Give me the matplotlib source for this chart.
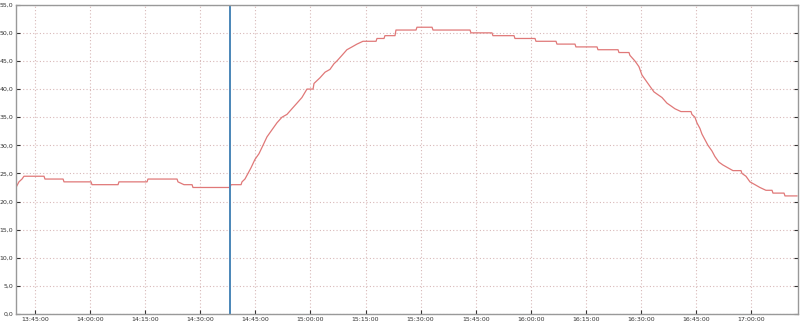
import matplotlib
matplotlib.use("Agg")
import matplotlib.pyplot as plt
import matplotlib.dates as mdates
import pandas as pd

# temperature log (at each change)
times = ["13:39:50", "13:40:38", "13:41:28", "13:42:00", "13:47:43", "13:52:54",
         "14:00:31", "14:07:52", "14:15:46", "14:23:56", "14:25:34", "14:28:01",
         "14:38:22", "14:41:22", "14:42:10", "14:43:00", "14:43:49", "14:44:54",
         "14:45:59", "14:47:05", "14:48:10", "14:49:15", "14:50:53", "14:52:15",
         "14:53:37", "14:54:58", "14:56:20", "14:57:41", "14:59:03", "15:00:58",
         "15:02:35", "15:03:58", "15:05:19", "15:06:24", "15:07:13", "15:08:35",
         "15:09:56", "15:11:19", "15:12:40", "15:14:18", "15:18:07", "15:20:17",
         "15:23:17", "15:29:00", "15:33:22", "15:43:42", "15:49:41", "15:55:41",
         "16:01:24", "16:07:07", "16:12:17", "16:18:17", "16:24:00", "16:26:59",
         "16:28:21", "16:29:26", "16:30:16", "16:31:21", "16:32:26", "16:33:32",
         "16:34:37", "16:35:43", "16:37:04", "16:38:10", "16:39:15", "16:40:53",
         "16:43:52", "16:44:41", "16:45:14", "16:46:03", "16:46:36", "16:47:25",
         "16:48:14", "16:49:19", "16:50:08", "16:51:14", "16:52:19", "16:53:40",
         "16:55:02", "16:57:29", "16:58:35", "16:59:40", "17:01:02", "17:02:23",
         "17:04:01", "17:05:56", "17:09:12", "17:12:28"]
temps = [22.5, 23.5, 24.0, 24.5, 24.0, 23.5,
         23.0, 23.5, 24.0, 23.5, 23.0, 22.5,
         23.0, 23.5, 24.0, 25.0, 26.0, 27.5,
         28.5, 30.0, 31.5, 32.5, 34.0, 35.0,
         35.5, 36.5, 37.5, 38.5, 40.0, 41.0,
         42.0, 43.0, 43.5, 44.5, 45.0, 46.0,
         47.0, 47.5, 48.0, 48.5, 49.0, 49.5,
         50.5, 51.0, 50.5, 50.0, 49.5, 49.0,
         48.5, 48.0, 47.5, 47.0, 46.5, 46.0,
         45.0, 44.0, 42.5, 41.5, 40.5, 39.5,
         39.0, 38.5, 37.5, 37.0, 36.5, 36.0,
         35.5, 35.0, 34.0, 33.0, 32.0, 31.0,
         30.0, 29.0, 28.0, 27.0, 26.5, 26.0,
         25.5, 25.0, 24.5, 23.5, 23.0, 22.5,
         22.0, 21.5, 21.0, 21.0]
marker_time = "14:38:10"
x_start, x_end = "13:39:50", "17:12:45"

day = "2020-01-01 "
t = pd.to_datetime([day + s for s in times])

# long holds are drawn as flat steps, quick changes as slopes
px, py = [t[0]], [temps[0]]
for i in range(1, len(t)):
    if (t[i] - t[i - 1]).total_seconds() > 100:
        px.append(t[i] - pd.Timedelta(seconds=15))
        py.append(temps[i - 1])
    px.append(t[i])
    py.append(temps[i])

fig = plt.figure(figsize=(8, 3.29), dpi=100)
ax = fig.add_axes([0.02, 0.0456, 0.9775, 0.94])

ax.plot(px, py, color="#e07878", lw=0.9)
ax.axvline(pd.Timestamp(day + marker_time), color="#4a86b8", lw=1.4)

ax.set_xlim(pd.Timestamp(day + x_start), pd.Timestamp(day + x_end))
ax.set_ylim(0, 55)
ax.set_yticks([i * 5 for i in range(12)])
ax.set_yticklabels([f"{i * 5},0" for i in range(12)])
ax.xaxis.set_major_locator(mdates.MinuteLocator(byminute=[0, 15, 30, 45]))
ax.xaxis.set_major_formatter(mdates.DateFormatter("%H:%M:%S"))

ax.grid(True, color="#d8b8b8", linestyle=(0, (1, 2)), lw=0.8)
ax.tick_params(labelsize=4.5, colors="#333333", length=3, direction="in",
               right=True, pad=2)
for s in ax.spines.values():
    s.set_color("#999999")
    s.set_linewidth(1.0)

fig.savefig("out.png", dpi=100)
